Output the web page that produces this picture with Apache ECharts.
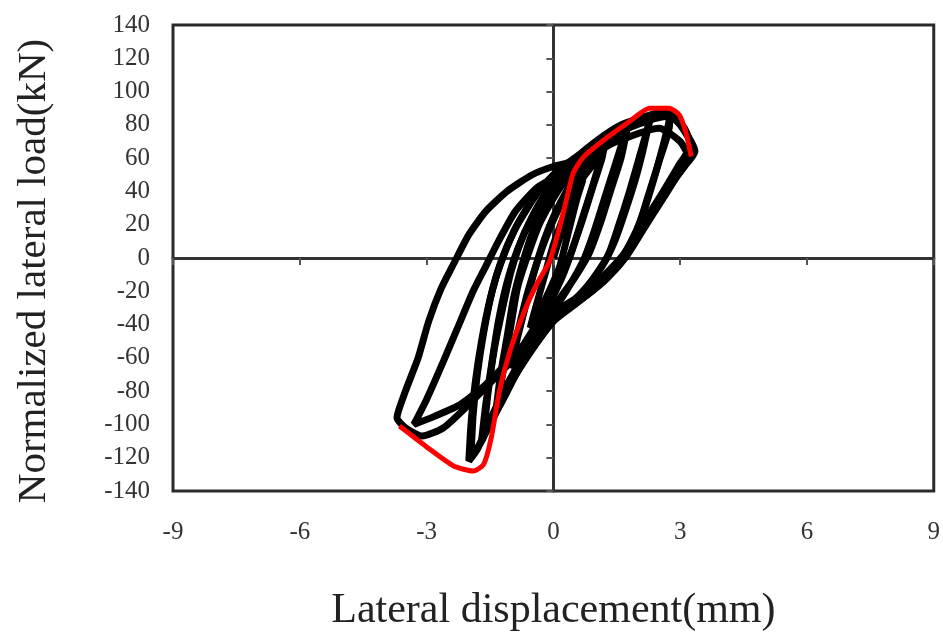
<!DOCTYPE html>
<html>
<head>
<meta charset="UTF-8">
<title>Hysteresis</title>
<script src="https://cdn.jsdelivr.net/npm/echarts@6/dist/echarts.min.js"></script>
<style>
  html, body { margin: 0; padding: 0; background: #fff; }
  #main { width: 943px; height: 637px; }
</style>
</head>
<body>
<div id="main"></div>
<script>
// axis ticks
var xTicks = [-9, -6, -3, 0, 3, 6, 9];
var yTicks = [-140, 140, 20];

// hysteresis cycles, [displacement mm, load kN]
var cycle1 = [[0,0],[0.25,20],[0.5,38],[0.7,47],[0.55,35],[0.35,15],[0.15,-5],[-0.1,-20],[-0.35,-33],[-0.55,-42],[-0.4,-28],[-0.2,-10],[0,8],[0.25,25],[0.5,40],[0.75,50]];
var cycle2 = [[0.75,50],[1.0,58],[1.15,62],[0.95,45],[0.7,25],[0.45,5],[0.2,-12],[-0.15,-30],[-0.5,-45],[-0.85,-60],[-1.0,-66],[-0.85,-48],[-0.65,-28],[-0.45,-8],[-0.2,12],[0.1,30],[0.5,48],[0.9,60],[1.2,66]];
var cycle2b = [[1.2,66],[1.15,60],[0.9,40],[0.65,20],[0.4,2],[0.1,-15],[-0.3,-35],[-0.7,-52],[-1.0,-62],[-0.8,-40],[-0.6,-20],[-0.35,0],[-0.05,20],[0.35,40],[0.8,55],[1.2,64]];
var cycle3 = [[1.2,66],[1.5,71],[1.7,75],[1.45,55],[1.2,35],[0.95,15],[0.7,-2],[0.35,-18],[0,-32],[-0.4,-48],[-0.8,-64],[-1.1,-78],[-1.35,-90],[-1.25,-70],[-1.1,-48],[-0.95,-25],[-0.75,-5],[-0.5,15],[-0.2,32],[0.2,48],[0.7,62],[1.2,72],[1.75,78]];
var cycle3b = [[1.75,78],[1.6,60],[1.35,40],[1.1,20],[0.85,3],[0.5,-12],[0.1,-26],[-0.3,-42],[-0.7,-58],[-1.05,-74],[-1.3,-85],[-1.15,-62],[-1.0,-40],[-0.85,-18],[-0.6,2],[-0.3,22],[0.1,40],[0.6,56],[1.1,68],[1.7,76]];
var cycle4 = [[1.75,78],[2.1,82],[2.3,84],[2.05,62],[1.8,40],[1.55,20],[1.3,2],[0.9,-14],[0.4,-28],[0,-38],[-0.5,-55],[-1.0,-75],[-1.4,-95],[-1.7,-110],[-1.6,-88],[-1.45,-62],[-1.3,-38],[-1.1,-15],[-0.85,5],[-0.5,25],[-0.1,42],[0.4,57],[1.0,70],[1.6,80],[2.3,86]];
var cycle4b = [[2.3,86],[2.15,68],[1.95,48],[1.7,28],[1.45,10],[1.15,-5],[0.7,-20],[0.2,-32],[-0.3,-46],[-0.8,-66],[-1.25,-88],[-1.65,-106],[-1.55,-82],[-1.4,-55],[-1.2,-30],[-1.0,-8],[-0.7,14],[-0.3,33],[0.2,50],[0.8,65],[1.5,77],[2.2,84]];
var cycle5 = [[2.3,86],[2.6,88],[2.8,88],[2.6,68],[2.35,45],[2.1,25],[1.8,8],[1.5,-4],[1.0,-18],[0.4,-30],[0,-38],[-0.6,-58],[-1.1,-78],[-1.5,-98],[-1.8,-115],[-2.0,-122],[-1.95,-100],[-1.85,-75],[-1.7,-50],[-1.5,-25],[-1.25,-3],[-0.9,18],[-0.5,35],[0,50],[0.5,60],[1.2,72],[2.0,82],[2.7,87]];
var cycle5b = [[2.7,87],[2.75,80],[2.5,58],[2.25,38],[2.0,18],[1.7,3],[1.3,-10],[0.7,-24],[0.1,-34],[-0.5,-52],[-1.0,-72],[-1.4,-92],[-1.7,-110],[-1.95,-120],[-1.9,-95],[-1.8,-70],[-1.65,-45],[-1.45,-20],[-1.2,0],[-0.85,20],[-0.4,38],[0.1,52],[0.7,63],[1.5,75],[2.3,83],[2.8,86]];
var cycle6 = [[2.7,87],[3.0,80],[3.35,64],[3.0,52],[2.6,36],[2.1,16],[1.7,0],[1.2,-14],[0.6,-26],[0,-36],[-0.6,-52],[-1.3,-70],[-2.0,-88],[-2.6,-102],[-3.1,-107],[-3.5,-102],[-3.7,-96],[-3.5,-80],[-3.2,-60],[-2.95,-38],[-2.65,-18],[-2.35,-3],[-2.0,14],[-1.6,28],[-1.1,40],[-0.5,50],[0,55],[0.5,58]];
var cycle6b = [[2.8,86],[3.1,78],[3.25,68],[2.95,55],[2.55,38],[2.1,20],[1.75,5],[1.3,-8],[0.7,-22],[0,-35]];
var cycle7 = [[0.5,58],[1.5,70],[2.5,78],[3.0,70],[3.2,60],[2.8,45],[2.3,25],[1.9,8],[1.5,-6],[0.8,-20],[0,-33],[-0.8,-55],[-1.6,-76],[-2.2,-88],[-2.8,-95],[-3.3,-100],[-3.0,-85],[-2.6,-62],[-2.2,-38],[-1.9,-20],[-1.6,-5],[-1.3,10],[-0.9,28],[-0.4,42],[0,48]];

// skeleton (envelope) curve, red
var envelope = [[-3.64,-101],[-3.0,-113.5],[-2.36,-125],[-1.89,-128],[-1.65,-124],[-1.47,-108],[-1.28,-80.5],[-1.04,-57],[-0.71,-33.5],[-0.40,-16],[-0.09,-2],[0.14,17.6],[0.31,35],[0.47,51],[0.71,60.6],[1.18,70.6],[1.80,82],[2.27,90],[2.74,90],[2.98,86],[3.14,75],[3.26,61]];

var chart = echarts.init(document.getElementById('main'));
var cycles = [cycle1, cycle2, cycle2b, cycle3, cycle3b, cycle4, cycle4b, cycle5, cycle5b, cycle6, cycle6b, cycle7];
var series = [];
for (var i = 0; i < cycles.length; i++) {
  series.push({
    type: 'line',
    data: cycles[i],
    showSymbol: false,
    smooth: 0.2,
    lineStyle: { color: '#000', width: 7 },
    silent: true,
    z: 3
  });
}
series.push({
  type: 'line',
  data: envelope,
  showSymbol: false,
  smooth: 0.2,
  lineStyle: { color: '#ff0000', width: 5 },
  silent: true,
  z: 4
});

var serif = 'Liberation Serif';
var labelStyle = { color: '#333', fontFamily: serif, fontSize: 25 };

chart.setOption({
  backgroundColor: '#fff',
  animation: false,
  grid: {
    left: 173, right: 8, top: 25, bottom: 141,
    show: true, borderColor: '#2a2a2a', borderWidth: 3
  },
  xAxis: [{
    type: 'value',
    min: xTicks[0], max: xTicks[xTicks.length - 1], interval: 3,
    position: 'bottom',
    axisLine: { show: false, onZero: false },
    axisTick: { show: false },
    splitLine: { show: false },
    axisLabel: Object.assign({ margin: 29 }, labelStyle),
    name: 'Lateral displacement(mm)',
    nameLocation: 'middle',
    nameGap: 99,
    nameTextStyle: { color: '#222', fontFamily: serif, fontSize: 42 }
  }, {
    type: 'value',
    min: xTicks[0], max: xTicks[xTicks.length - 1], interval: 3,
    axisLine: { show: true, onZero: true, onZeroAxisIndex: 0, lineStyle: { color: '#333', width: 3 } },
    axisTick: { show: true, inside: true, length: 7, lineStyle: { color: '#555', width: 2 } },
    axisLabel: { show: false },
    splitLine: { show: false }
  }],
  yAxis: [{
    type: 'value',
    min: yTicks[0], max: yTicks[1], interval: yTicks[2],
    position: 'left',
    axisLine: { show: false, onZero: false },
    axisTick: { show: false },
    splitLine: { show: false },
    axisLabel: Object.assign({ margin: 23, padding: [0, 0, 8, 0] }, labelStyle),
    name: 'Normalized lateral load(kN)',
    nameLocation: 'middle',
    nameGap: 118,
    nameRotate: 90,
    nameTextStyle: { color: '#222', fontFamily: serif, fontSize: 41, padding: [0, 26, 0, 0] }
  }, {
    type: 'value',
    min: yTicks[0], max: yTicks[1], interval: yTicks[2],
    axisLine: { show: true, onZero: true, onZeroAxisIndex: 0, lineStyle: { color: '#333', width: 3 } },
    axisTick: { show: true, inside: true, length: 7, lineStyle: { color: '#555', width: 2 } },
    axisLabel: { show: false },
    splitLine: { show: false }
  }],
  series: series
});
</script>
</body>
</html>
